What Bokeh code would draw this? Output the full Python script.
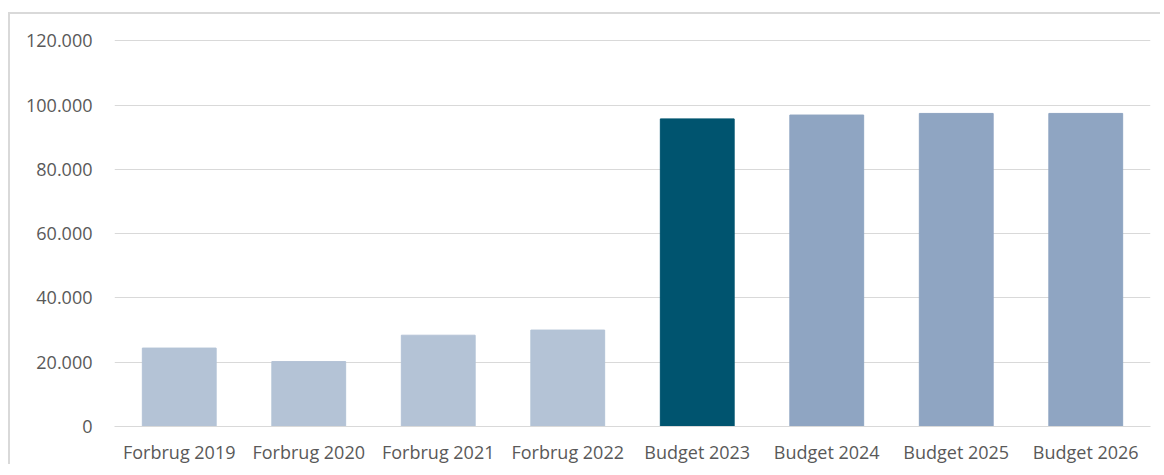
from bokeh.plotting import figure
from bokeh.models import ColumnDataSource, Range1d, FixedTicker
from bokeh.embed import file_html
from bokeh.resources import INLINE

categories = ["Forbrug 2019", "Forbrug 2020", "Forbrug 2021", "Forbrug 2022",
              "Budget 2023", "Budget 2024", "Budget 2025", "Budget 2026"]
values = [24400, 20200, 28400, 30000, 95700, 96900, 97400, 97400]
colors = ["#B4C3D6", "#B4C3D6", "#B4C3D6", "#B4C3D6",
          "#00546F", "#8FA5C2", "#8FA5C2", "#8FA5C2"]
y_ticks = [0, 20000, 40000, 60000, 80000, 100000, 120000]
y_tick_labels = ["0", "20.000", "40.000", "60.000", "80.000", "100.000", "120.000"]

FONT = "Open Sans"
TXT = "#595959"
GRID = "#d9d9d9"

src = ColumnDataSource(dict(cat=categories, val=values, col=colors))

p = figure(x_range=categories, y_range=Range1d(0, 120400),
           width=1152, height=452, output_backend="svg", toolbar_location=None,
           min_border_left=104, min_border_right=12, min_border_top=25, min_border_bottom=31)
p.styles = {"border-top": "2px solid #d9d9d9", "border-left": "2px solid #d9d9d9",
            "margin-left": "8px", "margin-top": "12px"}

p.vbar(x="cat", top="val", width=0.57, color="col", source=src)

p.outline_line_color = None
p.background_fill_color = "white"
p.border_fill_color = "white"
p.xgrid.grid_line_color = None
p.ygrid.grid_line_color = GRID
p.ygrid.grid_line_width = 1

ya = p.yaxis[0]
ya.ticker = FixedTicker(ticks=y_ticks)
ya.major_label_overrides = {t: l for t, l in zip(y_ticks, y_tick_labels)}
ya.axis_line_color = None
ya.major_tick_line_color = None
ya.minor_tick_line_color = None
ya.major_tick_out = 0
ya.major_tick_in = 0
ya.major_label_standoff = 22
ya.major_label_text_font = FONT
ya.major_label_text_font_size = "18px"
ya.major_label_text_color = TXT

xa = p.xaxis[0]
xa.axis_line_color = GRID
xa.major_tick_line_color = None
xa.minor_tick_line_color = None
xa.major_tick_out = 0
xa.major_tick_in = 0
xa.major_label_standoff = 13
xa.major_label_text_font = FONT
xa.major_label_text_font_size = "18px"
xa.major_label_text_color = TXT

open("out.html", "w").write(file_html(p, INLINE))
